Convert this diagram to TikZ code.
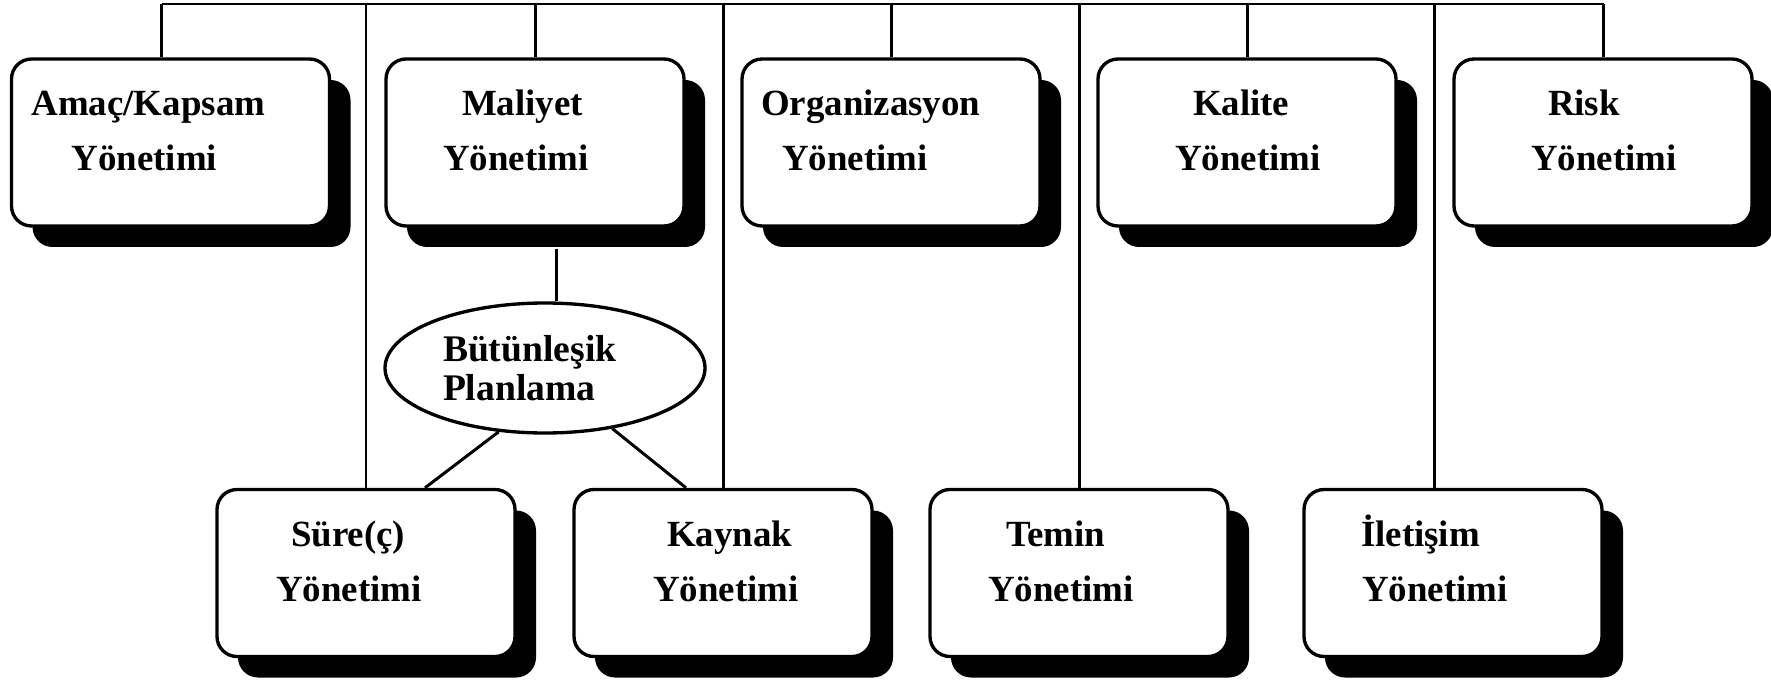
\documentclass[tikz,border=0pt]{standalone}
\usepackage{fontspec}
\setmainfont{Liberation Serif}
\usetikzlibrary{shapes.geometric,shadows}
\tikzset{mbox/.style={
    rectangle,
    draw,
    line width=0.95pt,
    rounded corners=2mm,
    fill=white,
    inner sep=0pt,
    align=left,
    text width=29.8mm,
    minimum width=29.8mm,
    minimum height=16.7mm,
    text height=2.4mm,
    text depth=7.7mm,
    font=\bfseries\fontsize{10.5}{15.6}\selectfont,
    drop shadow={shadow xshift=2.1mm,shadow yshift=-2.1mm,fill=black,opacity=1}
  },
  widebox/.style={mbox,text width=31.8mm,minimum width=31.8mm},
  planell/.style={
    ellipse,
    draw,
    line width=0.95pt,
    fill=white,
    inner sep=0pt,
    align=left,
    text width=20.4mm,
    minimum width=32mm,
    minimum height=13mm,
    font=\bfseries\fontsize{10.7}{10.9}\selectfont
  },
  conn/.style={line width=0.85pt}
}
\newcommand{\mlines}[4]{\hspace*{#1}#2\\\hspace*{#3}#4}

\begin{document}
\begin{tikzpicture}[x=0.1mm,y=-0.1mm]
  \useasboundingbox (0,0) rectangle (1771,681);
  \node[widebox] (amac) at (170.5,142.5) {\mlines{2mm}{Amaç/Kapsam}{6mm}{Yönetimi}};
  \node[mbox] (maliyet) at (535,142.5) {\mlines{7.6mm}{Maliyet}{5.7mm}{Yönetimi}};
  \node[mbox] (organ) at (891,142.5) {\mlines{1.9mm}{Organizasyon}{4mm}{Yönetimi}};
  \node[mbox] (kalite) at (1247,142.5) {\mlines{9.5mm}{Kalite}{7.7mm}{Yönetimi}};
  \node[mbox] (risk) at (1603,142.5) {\mlines{9.4mm}{Risk}{7.7mm}{Yönetimi}};
  \node[mbox] (sure) at (366,573) {\mlines{7.4mm}{Süre(ç)}{5.9mm}{Yönetimi}};
  \node[mbox] (kaynak) at (723,573) {\mlines{9.3mm}{Kaynak}{7.9mm}{Yönetimi}};
  \node[mbox] (temin) at (1079,573) {\mlines{7.6mm}{Temin}{5.8mm}{Yönetimi}};
  \node[mbox] (iletisim) at (1453,573) {\mlines{5.7mm}{İletişim}{5.8mm}{Yönetimi}};
  \node[planell] (plan) at (545,368) {Bütünleşik\\Planlama};

  \coordinate (busW) at (161.5,4);
  \coordinate (busE) at (1604,4);
  \coordinate (iltop) at ([xshift=-1.9mm]iletisim.north);
  \coordinate (malsh) at ([shift={(2.1mm,-2.1mm)}]maliyet.south);
  \draw[conn] (busW) -- (busE);
  \draw[conn] (busW) -- (busW |- amac.north);
  \foreach \b in {maliyet,organ,kalite,risk,sure,kaynak,temin}
    \draw[conn] (\b.north) -- (\b.north |- busW);
  \draw[conn] (iltop) -- (iltop |- busW);
  \draw[conn] (malsh) -- (malsh |- plan.north);
  \draw[conn] (plan.234) -- ([xshift=5.9mm]sure.north);
  \draw[conn] (plan.318) -- ([xshift=-3.7mm]kaynak.north);
\end{tikzpicture}
\end{document}
